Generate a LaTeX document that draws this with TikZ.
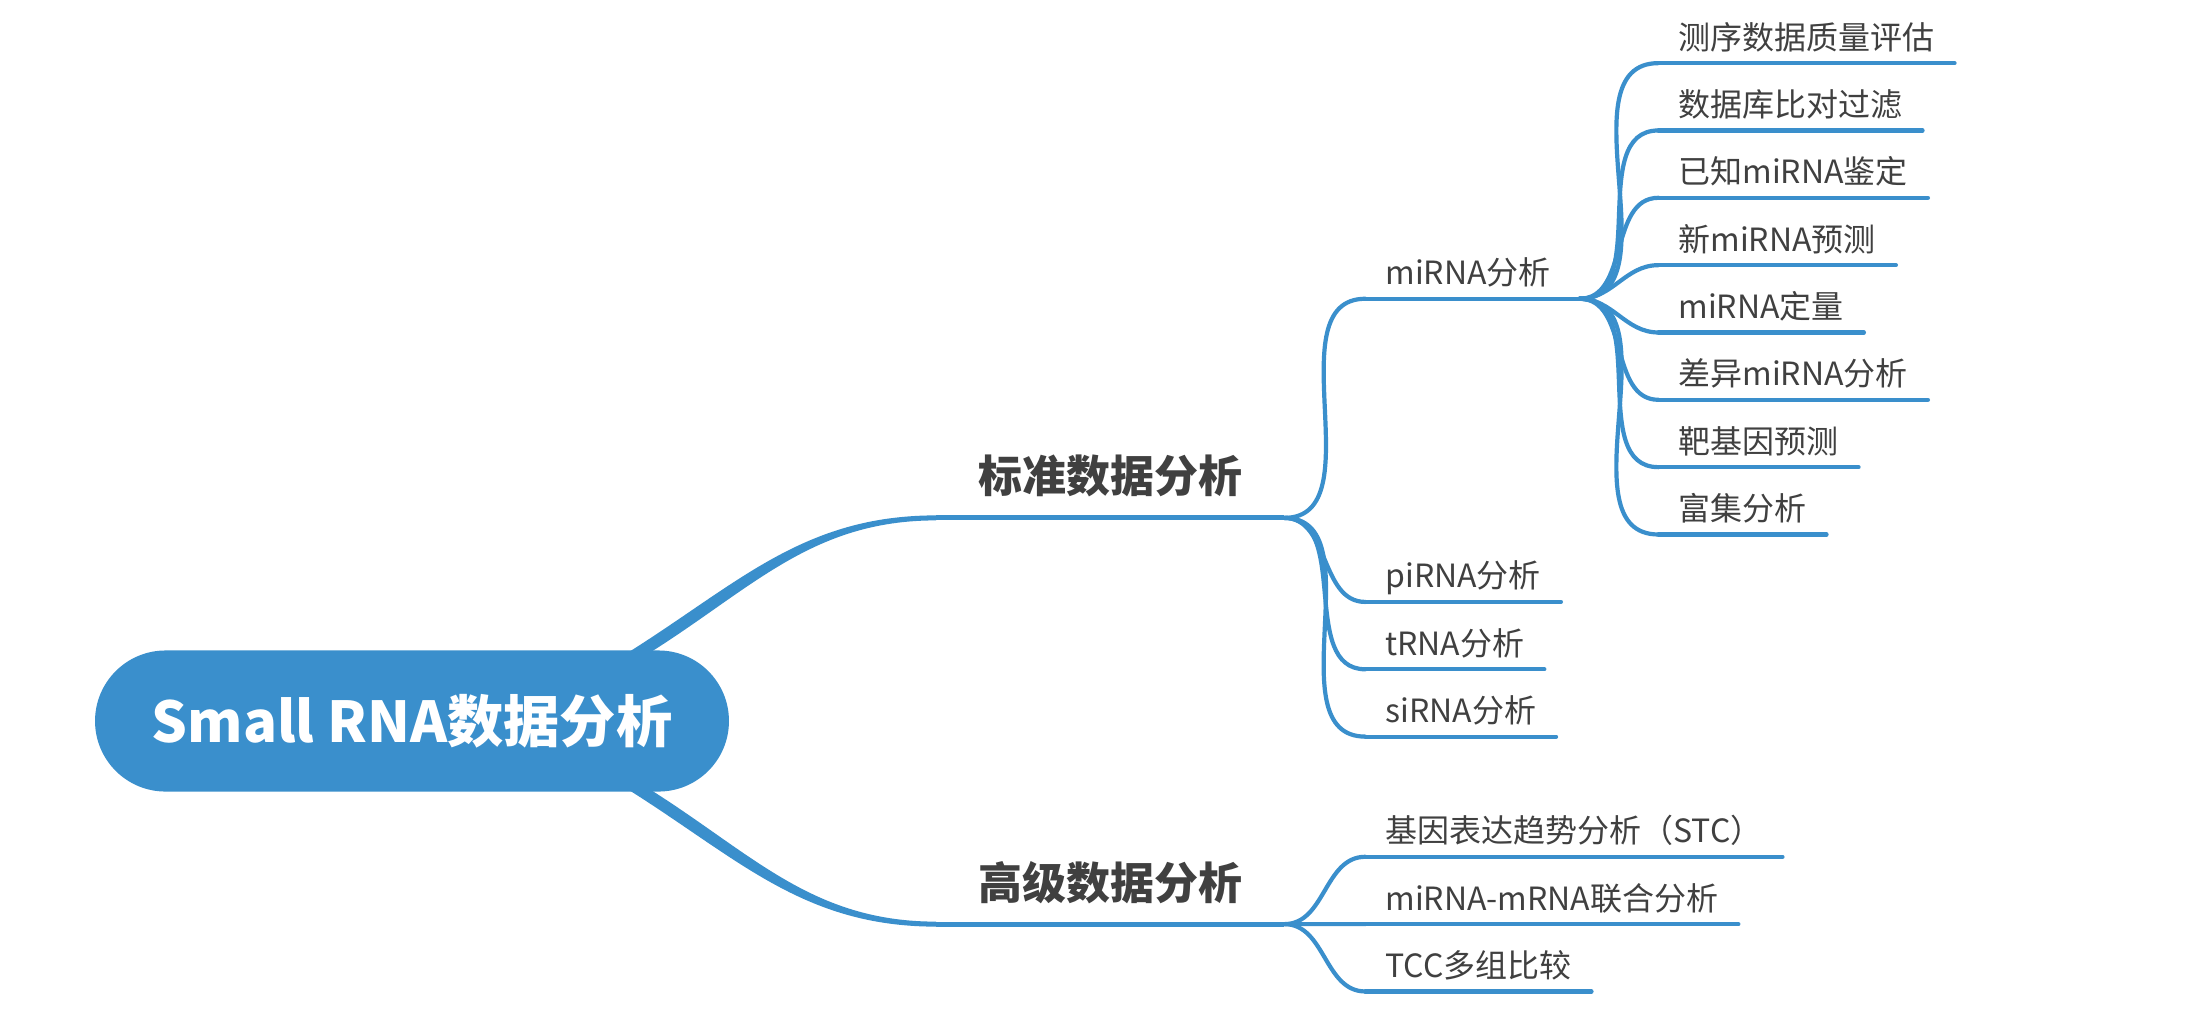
\documentclass[tikz,border=0pt]{standalone}
\usepackage{fontspec}
\setmainfont{Noto Sans CJK SC}
\usepackage{tikz}
\usetikzlibrary{positioning,shapes.misc}
\definecolor{mapblue}{HTML}{3A8FCC}
\definecolor{mapgray}{HTML}{404040}
\tikzset{
    outer sep=0pt,
    %node distance=1cm,
    root topic/.style={rounded rectangle,fill=mapblue,text=white,font=\fontsize{16}{19}\selectfont\bfseries,minimum width=6.57cm,minimum height=1.41cm},
    main topic/.style={font=\fontsize{12.5}{15}\selectfont\bfseries,text=mapgray,minimum width=3.48cm,inner sep=0pt,text height=0.55cm,text depth=0.25cm},
    sub topic/.style={font=\fontsize{9.1}{11}\selectfont,text=mapgray,inner xsep=0.2cm,inner ysep=0pt,text height=0.533cm,text depth=0.14cm},
    branch/.style={fill=mapblue},
    main line/.style={draw=mapblue,line width=0.05cm},
    sub line/.style={draw=mapblue,line width=0.042cm,line cap=round}
}
\begin{document}
\begin{tikzpicture}[x=0.01cm, y=0.01cm]
    \useasboundingbox[fill=white] (0,0) rectangle (2185,-1009);
    \node[root topic] (root) at (412,-721) {Small RNA数据分析};
    \node[main topic] (std) [above right = 2.03cm and 2.07cm of root.east] {标准数据分析};
    \node[main topic] (adv) [below right = 2.03cm and 2.07cm of root.east, anchor=south west] {高级数据分析};
    \node[sub topic, text width=1.74cm] (mi) [above right = 2.19cm and 0.81cm of std.south east] {miRNA分析};
    \node[sub topic] (pi) [below right = 0.84cm and 0.81cm of std.south east, anchor=south west] {piRNA分析};
    \node[sub topic] (tr) [below = 0pt of pi.south west, anchor=north west] {tRNA分析};
    \node[sub topic] (si) [below = 0pt of tr.south west, anchor=north west] {siRNA分析};
    \node[sub topic] (m1) [above right = 2.355cm and 0.79cm of mi.south east] {测序数据质量评估};
    \node[sub topic] (m2) [below = 0pt of m1.south west, anchor=north west] {数据库比对过滤};
    \node[sub topic] (m3) [below = 0pt of m2.south west, anchor=north west] {已知miRNA鉴定};
    \node[sub topic] (m4) [below = 0pt of m3.south west, anchor=north west] {新miRNA预测};
    \node[sub topic] (m5) [below = 0pt of m4.south west, anchor=north west] {miRNA定量};
    \node[sub topic] (m6) [below = 0pt of m5.south west, anchor=north west] {差异miRNA分析};
    \node[sub topic] (m7) [below = 0pt of m6.south west, anchor=north west] {靶基因预测};
    \node[sub topic] (m8) [below = 0pt of m7.south west, anchor=north west] {富集分析};
    \node[sub topic] (a1) [above right = 0.673cm and 0.81cm of adv.south east] {基因表达趋势分析（STC）};
    \node[sub topic] (a2) [below = 0pt of a1.south west, anchor=north west] {miRNA-mRNA联合分析};
    \node[sub topic] (a3) [below = 0pt of a2.south west, anchor=north west] {TCC多组比较};
    \fill[branch] ([shift={(213,-4)}]root.north) to[out=32, in=180] ([yshift=.25mm]std.south west)
        -- ([yshift=-.25mm]std.south west) to[out=180, in=32] ([shift={(235,-4)}]root.north) -- cycle;
    \fill[branch] ([shift={(213,4)}]root.south) to[out=-32, in=180] ([yshift=-.25mm]adv.south west)
        -- ([yshift=.25mm]adv.south west) to[out=180, in=-32] ([shift={(235,4)}]root.south) -- cycle;
    \draw[main line] (std.south west) -- (std.south east) (adv.south west) -- (adv.south east);
    \path[sub line]
        (std.south east) edge [out=0, in=180] (mi.south west)
        (std.south east) edge [out=0, in=180] (pi.south west)
        (std.south east) edge [out=0, in=180] (tr.south west)
        (std.south east) edge [out=0, in=180] (si.south west)
        (mi.south east) edge [out=0, in=180] (m1.south west)
        (mi.south east) edge [out=0, in=180] (m2.south west)
        (mi.south east) edge [out=0, in=180] (m3.south west)
        (mi.south east) edge [out=0, in=180] (m4.south west)
        (mi.south east) edge [out=0, in=180] (m5.south west)
        (mi.south east) edge [out=0, in=180] (m6.south west)
        (mi.south east) edge [out=0, in=180] (m7.south west)
        (mi.south east) edge [out=0, in=180] (m8.south west)
        (adv.south east) edge [out=0, in=180] (a1.south west)
        (adv.south east) edge [out=0, in=180] (a2.south west)
        (adv.south east) edge [out=0, in=180] (a3.south west)
        (mi.south west) edge (mi.south east)
        (pi.south west) edge (pi.south east)
        (tr.south west) edge (tr.south east)
        (si.south west) edge (si.south east)
        (m1.south west) edge (m1.south east)
        (m2.south west) edge (m2.south east)
        (m3.south west) edge (m3.south east)
        (m4.south west) edge (m4.south east)
        (m5.south west) edge (m5.south east)
        (m6.south west) edge (m6.south east)
        (m7.south west) edge (m7.south east)
        (m8.south west) edge (m8.south east)
        (a1.south west) edge (a1.south east)
        (a2.south west) edge (a2.south east)
        (a3.south west) edge (a3.south east)
        ;
\end{tikzpicture}
\end{document}
